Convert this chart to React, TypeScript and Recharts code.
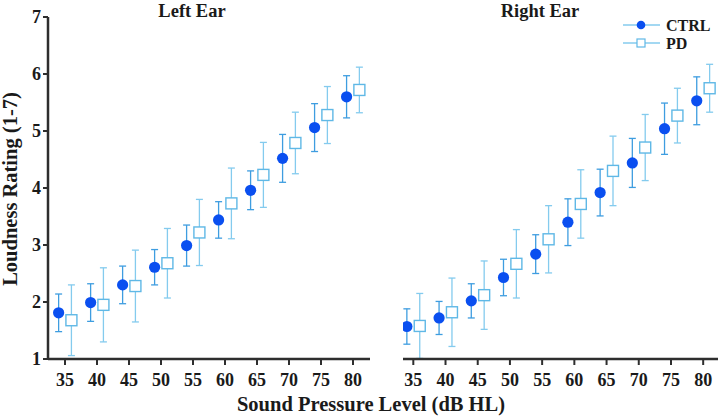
import { ScatterChart, Scatter, XAxis, YAxis, ErrorBar, Legend } from "recharts";

const levels = [35, 40, 45, 50, 55, 60, 65, 70, 75, 80];
const ratingTicks = [1, 2, 3, 4, 5, 6, 7];

// left ear
const leftCtrlMean = [1.81, 1.99, 2.3, 2.61, 2.99, 3.44, 3.96, 4.52, 5.06, 5.6];
const leftCtrlErr = [0.33, 0.33, 0.33, 0.31, 0.36, 0.32, 0.34, 0.42, 0.42, 0.37];
const leftPdMean = [1.68, 1.95, 2.28, 2.68, 3.22, 3.73, 4.23, 4.79, 5.28, 5.72];
const leftPdErr = [0.62, 0.65, 0.63, 0.61, 0.58, 0.62, 0.57, 0.54, 0.5, 0.4];

// right ear
const rightCtrlMean = [1.57, 1.72, 2.02, 2.43, 2.84, 3.4, 3.92, 4.44, 5.04, 5.53];
const rightCtrlErr = [0.31, 0.29, 0.3, 0.32, 0.34, 0.41, 0.41, 0.43, 0.45, 0.42];
const rightPdMean = [1.58, 1.82, 2.12, 2.67, 3.1, 3.72, 4.3, 4.71, 5.27, 5.75];
const rightPdErr = [0.57, 0.6, 0.6, 0.6, 0.59, 0.6, 0.61, 0.58, 0.48, 0.42];

const CTRL_FILL = "#0a4ff0";
const CTRL_BAR = "#3e9de0";
const PD_STROKE = "#5fb8e6";
const PD_BAR = "#84cbee";
const AXIS = "#2e2e2e";
const TEXT = "#1a1a1a";
const FONT = "'Liberation Serif', 'Times New Roman', serif";

// groups are dodged a little so the bars don't overlap
const toPoints = (means: number[], errs: number[], shift: number) =>
  levels.map((lv, i) => ({ x: lv + shift, y: means[i], err: errs[i] }));

const CtrlDot = (props: any) => (
  <circle cx={props.cx} cy={props.cy} r={5.6} fill={CTRL_FILL} />
);

const PdBox = (props: any) => (
  <rect
    x={props.cx - 5.5}
    y={props.cy - 5.5}
    width={11}
    height={11}
    fill="#fff"
    stroke={PD_STROKE}
    strokeWidth={1.4}
  />
);

const tickStyle = { fill: TEXT, fontSize: 18, fontWeight: 700, fontFamily: FONT };

function LegendBox() {
  return (
    <svg width={100} height={40} style={{ display: "block" }}>
      <line x1={0} x2={37} y1={8} y2={8} stroke={PD_BAR} strokeWidth={1.3} />
      <circle cx={18} cy={8} r={4.3} fill={CTRL_FILL} />
      <text x={43} y={13.5} fontSize={16} fontWeight={700} fontFamily={FONT} fill={TEXT}>
        CTRL
      </text>
      <line x1={0} x2={37} y1={26} y2={26} stroke={PD_BAR} strokeWidth={1.3} />
      <rect x={14} y={22} width={8} height={8} fill="#fff" stroke={PD_STROKE} strokeWidth={1.2} />
      <text x={43} y={31.5} fontSize={16} fontWeight={700} fontFamily={FONT} fill={TEXT}>
        PD
      </text>
    </svg>
  );
}

interface PanelProps {
  ctrl: { x: number; y: number; err: number }[];
  pd: { x: number; y: number; err: number }[];
  xDomain: [number, number];
  width: number;
  left: number;
  right: number;
  showY: boolean;
  legend?: boolean;
}

function EarPanel({ ctrl, pd, xDomain, width, left, right, showY, legend }: PanelProps) {
  return (
    <ScatterChart
      width={width}
      height={418}
      margin={{ top: 17, right, bottom: 29, left }}
    >
      <XAxis
        type="number"
        dataKey="x"
        domain={xDomain}
        allowDataOverflow
        ticks={levels}
        interval={0}
        height={30}
        tickSize={6}
        tickMargin={8}
        tick={tickStyle}
        axisLine={{ stroke: AXIS, strokeWidth: 2.5 }}
        tickLine={{ stroke: AXIS, strokeWidth: 2 }}
      />
      <YAxis
        type="number"
        dataKey="y"
        domain={[1, 7]}
        allowDataOverflow
        ticks={ratingTicks}
        interval={0}
        hide={!showY}
        width={40}
        tickSize={5}
        tickMargin={2}
        tick={tickStyle}
        axisLine={{ stroke: AXIS, strokeWidth: 2.5 }}
        tickLine={{ stroke: AXIS, strokeWidth: 2 }}
      />
      {legend && (
        <Legend
          layout="horizontal"
          verticalAlign="middle"
          align="center"
          wrapperStyle={{ top: 17, left: 263, width: 100 }}
          content={() => <LegendBox />}
        />
      )}
      <Scatter name="CTRL" data={ctrl} shape={CtrlDot} isAnimationActive={false}>
        <ErrorBar dataKey="err" direction="y" width={3.5} stroke={CTRL_BAR} strokeWidth={1.3} />
      </Scatter>
      <Scatter name="PD" data={pd} shape={PdBox} isAnimationActive={false}>
        <ErrorBar dataKey="err" direction="y" width={3.5} stroke={PD_BAR} strokeWidth={1.3} />
      </Scatter>
    </ScatterChart>
  );
}

export default function App() {
  return (
    <div
      style={{
        position: "fixed",
        left: 0,
        top: 0,
        width: 721,
        height: 418,
        background: "#fff",
        fontFamily: FONT,
      }}
    >
      <div style={{ position: "absolute", left: 0, top: 0 }}>
        <EarPanel
          ctrl={toPoints(leftCtrlMean, leftCtrlErr, -1)}
          pd={toPoints(leftPdMean, leftPdErr, 1)}
          xDomain={[32.34, 82.66]}
          width={380}
          left={8}
          right={10}
          showY
        />
      </div>
      <div style={{ position: "absolute", left: 360, top: 0 }}>
        <EarPanel
          ctrl={toPoints(rightCtrlMean, rightCtrlErr, -1)}
          pd={toPoints(rightPdMean, rightPdErr, 1)}
          xDomain={[33.4, 82.3]}
          width={361}
          left={43}
          right={3}
          showY={false}
          legend
        />
      </div>
      <svg
        width={721}
        height={418}
        style={{ position: "absolute", left: 0, top: 0, pointerEvents: "none" }}
        fontFamily={FONT}
        fontWeight={700}
        fill={TEXT}
      >
        <text x={192} y={17} fontSize={18.5} textAnchor="middle">Left Ear</text>
        <text x={540} y={17} fontSize={18.5} textAnchor="middle">Right Ear</text>
        <text x={371} y={411} fontSize={20.5} textAnchor="middle">
          Sound Pressure Level (dB HL)
        </text>
        <text transform="rotate(-90)" x={-189} y={17} fontSize={20.5} textAnchor="middle">
          Loudness Rating (1-7)
        </text>
      </svg>
    </div>
  );
}
